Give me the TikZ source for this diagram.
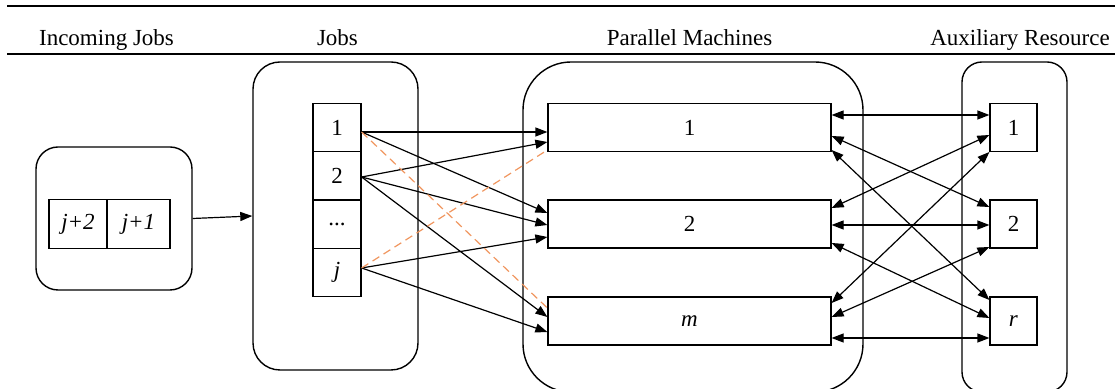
\documentclass[tikz,border=0pt]{standalone}
\usepackage{fontspec}
\setmainfont{Liberation Serif}
\usetikzlibrary{arrows.meta,calc}
\definecolor{dashorange}{RGB}{240,150,95}

\begin{document}
\begin{tikzpicture}[x=0.5pt,y=-0.5pt, font=\fontsize{11.5}{13}\selectfont,
    every node/.style={inner sep=0pt, line width=0.6pt},
    group/.style={draw, line width=0.7pt, rounded corners=#1},
    cell/.style={draw, minimum width=24pt, minimum height=24.25pt},
    machine/.style={draw, minimum width=141.5pt, minimum height=24pt},
    res/.style={draw, minimum width=23.5pt, minimum height=24pt},
    heading/.style={anchor=base},
    onearrow/.style={line width=0.6pt, -{Triangle[length=6pt,width=4.5pt]}},
    twoarrow/.style={line width=0.6pt, {Triangle[length=6pt,width=4.5pt]}-{Triangle[length=6pt,width=4.5pt]}},
    dashlink/.style={line width=0.6pt, draw=dashorange, dash pattern=on 4pt off 2.5pt}]
        \useasboundingbox (0,0) rectangle (1115,389);
        \clip (0,0) rectangle (1115,389);

        % header
        \draw[line width=1.2pt] (7,6) -- (1115,6);
        \draw[line width=1.2pt] (7,54) -- (1115,54);
        \node[heading] (h1) at (106.5,46) {Incoming Jobs};
        \node[heading] (h2) at (337.5,46) {Jobs};
        \node[heading] (h3) at (689.5,46) {Parallel Machines};
        \node[heading] (h4) at (1020,46) {Auxiliary Resource};

        % groups
        \node[group=11pt, minimum width=78pt, minimum height=71.5pt] (incoming) at (114,218.5) {};
        \node[group=13.5pt, minimum width=82.5pt, minimum height=154pt] (jobs) at (335.5,216) {};
        \node[group=24pt, minimum width=170pt, minimum height=165pt] (machines) at (693,227) {};
        \node[group=10pt, minimum width=52.5pt, minimum height=165pt] (resources) at (1014.5,227) {};

        % incoming jobs
        \node[cell, minimum width=29pt] (in2) at (78,224) {\textit{j+2}};
        \node[cell, minimum width=31.5pt] (in1) at (138.5,224) {\textit{j+1}};

        % jobs
        \node[cell] (j1) at (337,127.5) {1};
        \node[cell] (j2) at (337,176) {2};
        \node[cell] (jd) at (337,224) {...};
        \node[cell] (jj) at (337,272.5) {\textit{j}};

        % machines
        \node[machine] (m1) at (689.5,127.5) {1};
        \node[machine] (m2) at (689.5,224) {2};
        \node[machine] (mm) at (689.5,321) {\textit{m}};

        % resources
        \node[res] (r1) at (1013.5,127.5) {1};
        \node[res] (r2) at (1013.5,224) {2};
        \node[res] (rr) at (1013.5,321) {\textit{r}};

        \draw[onearrow] (incoming.east) -- (jobs.west);

        % jobs to machines
        \draw[onearrow] ($(j1.east)+(0,4.5)$) -- ($(m1.west)+(0,4.5)$);
        \draw[onearrow] ($(j1.east)+(0,4.5)$) -- ($(m2.west)+(0,-11)$);
        \draw[onearrow] ($(j2.east)+(0,1)$) -- ($(m1.west)+(0,14.5)$);
        \draw[onearrow] ($(j2.east)+(0,1)$) -- ($(m2.west)+(0,1)$);
        \draw[onearrow] ($(j2.east)+(0,1)$) -- ($(mm.west)+(0,-4)$);
        \draw[onearrow] ($(jj.east)+(0,-4.5)$) -- ($(m2.west)+(0,13)$);
        \draw[onearrow] ($(jj.east)+(0,-4.5)$) -- ($(mm.west)+(0,11)$);
        \draw[dashlink] ($(j1.east)+(0,4.5)$) -- ($(mm.west)+(0,-13)$);
        \draw[dashlink] ($(jj.east)+(0,-4.5)$) -- ($(m1.west)+(0,22.5)$);

        % machines to resources
        \draw[twoarrow] ($(m1.east)+(0,-12.5)$) -- ($(r1.west)+(0,-12.5)$);
        \draw[twoarrow] ($(m1.east)+(0,8.5)$) -- ($(r2.west)+(0,-17)$);
        \draw[twoarrow] ($(m1.east)+(0,22.5)$) -- ($(rr.west)+(0,-21)$);
        \draw[twoarrow] ($(m2.east)+(0,-16)$) -- ($(r1.west)+(0,7.5)$);
        \draw[twoarrow] ($(m2.east)+(0,1)$) -- ($(r2.west)+(0,1)$);
        \draw[twoarrow] ($(m2.east)+(0,19)$) -- ($(rr.west)+(0,-3)$);
        \draw[twoarrow] ($(mm.east)+(0,-18)$) -- ($(r1.west)+(0,24.5)$);
        \draw[twoarrow] ($(mm.east)+(0,-4)$) -- ($(r2.west)+(0,23)$);
        \draw[twoarrow] ($(mm.east)+(0,17)$) -- ($(rr.west)+(0,17)$);
\end{tikzpicture}
\end{document}
